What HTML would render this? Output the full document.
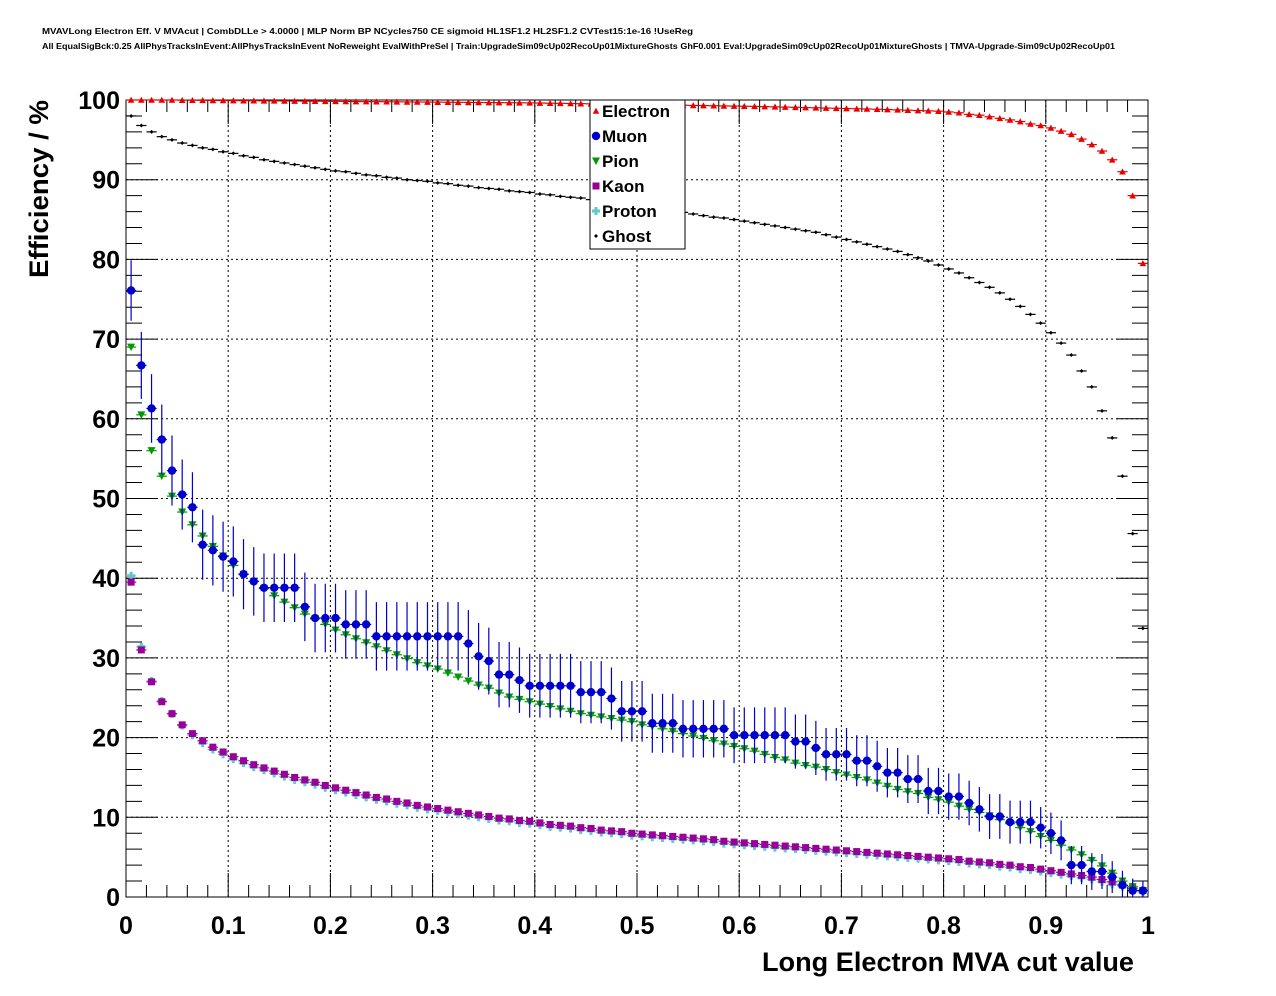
<!DOCTYPE html>
<html><head><meta charset="utf-8">
<style>
body{margin:0;background:#fff;}
svg{display:block;font-family:"Liberation Sans",Arial,sans-serif;}
</style></head>
<body>
<svg id="chart" width="1276" height="996" viewBox="0 0 1276 996" xmlns="http://www.w3.org/2000/svg">
<rect x="0" y="0" width="1276" height="996" fill="#fff"/>
<text x="42" y="34" font-size="8.5" font-weight="bold" textLength="651" lengthAdjust="spacingAndGlyphs">MVAVLong Electron Eff. V MVAcut | CombDLLe &gt; 4.0000 | MLP Norm BP NCycles750 CE sigmoid HL1SF1.2 HL2SF1.2 CVTest15:1e-16 !UseReg</text>
<text x="42" y="49" font-size="8.5" font-weight="bold" textLength="1073" lengthAdjust="spacingAndGlyphs">All EqualSigBck:0.25 AllPhysTracksInEvent:AllPhysTracksInEvent NoReweight EvalWithPreSel | Train:UpgradeSim09cUp02RecoUp01MixtureGhosts GhF0.001 Eval:UpgradeSim09cUp02RecoUp01MixtureGhosts | TMVA-Upgrade-Sim09cUp02RecoUp01</text>
<g id="grid"></g>
<g id="axes"></g>
<g id="series"></g>
<text x="1134" y="971" font-size="27" font-weight="bold" text-anchor="end" textLength="372" lengthAdjust="spacingAndGlyphs">Long Electron MVA cut value</text>
<text transform="translate(48,100) rotate(-90)" font-size="27" font-weight="bold" text-anchor="end" textLength="178" lengthAdjust="spacingAndGlyphs">Efficiency / %</text>
<g id="legend"></g>
</svg>
<script>
const xTicks=[0,0.1,0.2,0.3,0.4,0.5,0.6,0.7,0.8,0.9,1];
const xTickLabels=["0","0.1","0.2","0.3","0.4","0.5","0.6","0.7","0.8","0.9","1"];
const yTicks=[0,10,20,30,40,50,60,70,80,90,100];
const yTickLabels=["0","10","20","30","40","50","60","70","80","90","100"];
const seriesNames=["Electron","Muon","Pion","Kaon","Proton","Ghost"];
const electron=[100,100,100,100,100,99.98,99.97,99.96,99.95,99.94,99.93,99.92,99.91,99.9,99.89,99.88,99.87,99.86,99.85,99.84,99.83,99.82,99.81,99.8,99.79,99.78,99.77,99.76,99.75,99.74,99.73,99.72,99.71,99.7,99.69,99.68,99.67,99.66,99.65,99.64,99.62,99.6,99.58,99.56,99.54,99.52,99.5,99.48,99.46,99.44,99.42,99.4,99.38,99.36,99.34,99.32,99.3,99.28,99.26,99.24,99.22,99.2,99.17,99.14,99.11,99.08,99.05,99.02,98.99,98.96,98.93,98.9,98.87,98.84,98.8,98.76,98.72,98.68,98.64,98.6,98.5,98.4,98.2,98.1,97.9,97.7,97.5,97.3,97.0,96.8,96.5,96.1,95.7,95.1,94.4,93.6,92.5,91.0,88.0,79.5];
const muon=[76.1,66.7,61.3,57.4,53.5,50.5,48.9,44.2,43.5,42.7,42.1,40.5,39.6,38.8,38.8,38.8,38.8,36.4,35.0,35.0,35.0,34.2,34.2,34.2,32.7,32.7,32.7,32.7,32.7,32.7,32.7,32.7,32.7,31.8,30.2,29.6,27.9,27.9,27.2,26.5,26.5,26.5,26.5,26.5,25.7,25.7,25.7,24.9,23.3,23.3,23.3,21.8,21.8,21.8,21.1,21.1,21.1,21.1,21.1,20.3,20.3,20.3,20.3,20.3,20.3,19.5,19.5,18.7,17.9,17.9,17.9,17.1,17.1,16.4,15.6,15.6,14.8,14.8,13.3,13.3,12.6,12.6,11.8,11.0,10.1,10.1,9.4,9.4,9.4,8.7,8.0,7.1,4.0,4.0,3.2,3.2,2.5,1.5,0.8,0.8];
const muonErr=[3.8,4.2,4.3,4.4,4.4,4.4,4.4,4.4,4.4,4.4,4.4,4.4,4.3,4.3,4.3,4.3,4.3,4.3,4.3,4.3,4.3,4.3,4.3,4.3,4.3,4.3,4.3,4.3,4.3,4.3,4.3,4.3,4.3,4.2,4.2,4.2,4.1,4.1,4.1,4.0,4.0,4.0,4.0,4.0,3.9,3.9,3.9,3.9,3.8,3.8,3.8,3.7,3.7,3.7,3.6,3.6,3.6,3.6,3.6,3.5,3.5,3.5,3.5,3.5,3.5,3.4,3.4,3.4,3.3,3.3,3.3,3.2,3.2,3.2,3.1,3.1,3.0,3.0,2.9,2.9,2.9,2.9,2.8,2.8,2.8,2.8,2.7,2.7,2.7,2.6,2.6,2.5,2.4,2.4,2.3,2.2,2.0,1.8,1.5,1.2];
const pion=[69,60.5,56,52.8,50.3,48.3,46.7,45.3,44.0,42.8,41.6,40.5,39.6,38.7,37.8,37.0,36.3,35.5,34.9,34.2,33.5,32.9,32.4,31.9,31.4,30.9,30.4,29.9,29.4,29.0,28.6,28.1,27.6,27.1,26.6,26.2,25.6,25.1,24.8,24.5,24.2,23.9,23.6,23.3,23.0,22.8,22.6,22.4,22.2,22.0,21.6,21.4,21.1,20.8,20.5,20.2,19.9,19.6,19.2,18.9,18.6,18.3,17.9,17.5,17.2,16.8,16.5,16.3,16.0,15.6,15.3,15.0,14.7,14.3,13.9,13.5,13.2,13.0,12.5,12.2,11.9,11.4,11.0,10.6,10.2,9.7,9.2,8.7,8.2,7.6,7.1,6.5,5.9,5.3,4.6,3.9,3.0,2.0,1.3,0.8];
const kaon=[39.5,31,27,24.5,23,21.6,20.5,19.6,18.8,18.2,17.6,17.1,16.6,16.2,15.8,15.4,15.0,14.7,14.4,14.0,13.7,13.4,13.1,12.8,12.5,12.3,12.0,11.8,11.5,11.3,11.1,10.9,10.7,10.5,10.3,10.1,9.9,9.8,9.6,9.5,9.3,9.1,9.0,8.9,8.7,8.6,8.4,8.3,8.2,8.0,7.9,7.8,7.7,7.6,7.5,7.4,7.3,7.2,7.0,6.9,6.8,6.7,6.6,6.5,6.4,6.3,6.2,6.1,6.0,5.9,5.8,5.7,5.6,5.5,5.4,5.3,5.2,5.1,5.0,4.9,4.8,4.7,4.5,4.4,4.3,4.1,4.0,3.8,3.7,3.5,3.3,3.1,2.9,2.7,2.5,2.2,1.9,1.5,1.1,0.8];
const proton=[40.3,31.4,27.1,24.6,23.0,21.5,20.3,19.3,18.5,17.9,17.3,16.8,16.3,15.9,15.5,15.1,14.7,14.4,14.1,13.7,13.4,13.1,12.8,12.5,12.2,12.0,11.7,11.5,11.2,11.0,10.8,10.6,10.4,10.2,10.0,9.8,9.6,9.5,9.3,9.2,9.0,8.8,8.7,8.6,8.4,8.3,8.1,8.0,7.9,7.7,7.6,7.5,7.4,7.3,7.2,7.1,7.0,6.9,6.7,6.6,6.5,6.4,6.3,6.2,6.1,6.0,5.9,5.8,5.7,5.6,5.5,5.4,5.3,5.2,5.1,5.0,4.9,4.8,4.7,4.6,4.5,4.4,4.2,4.1,4.0,3.8,3.7,3.5,3.4,3.2,3.0,2.8,2.6,2.4,2.2,1.9,1.6,1.3,0.9,0.6];
const ghost=[98.0,96.8,96.0,95.4,95.0,94.6,94.3,94.0,93.8,93.5,93.3,93.0,92.8,92.5,92.3,92.1,91.9,91.7,91.5,91.3,91.1,91.0,90.8,90.6,90.5,90.3,90.2,90.0,89.9,89.8,89.6,89.5,89.3,89.2,89.0,88.9,88.8,88.6,88.5,88.4,88.2,88.1,87.9,87.8,87.7,87.5,87.4,87.2,87.0,86.9,86.7,86.5,86.3,86.1,85.9,85.7,85.5,85.3,85.2,85.0,84.8,84.6,84.4,84.2,84.0,83.8,83.6,83.4,83.1,82.8,82.5,82.2,81.9,81.6,81.3,81.0,80.6,80.2,79.8,79.3,78.8,78.3,77.7,77.1,76.5,75.8,75.0,74.1,73.1,72.0,70.8,69.5,68.0,66.0,64.0,61.0,57.6,52.8,45.6,33.7];
const NB=100;

const NS="http://www.w3.org/2000/svg";
const X0=126,X1=1148,Y0=897,Y1=100;
const xs=v=>X0+(X1-X0)*v;
const ys=v=>Y0-(Y0-Y1)*v/100;
function mk(tag,attrs,parent){const e=document.createElementNS(NS,tag);for(const k in attrs)e.setAttribute(k,attrs[k]);parent.appendChild(e);return e;}
const grid=document.getElementById('grid'),axes=document.getElementById('axes'),ser=document.getElementById('series'),leg=document.getElementById('legend');

xTicks.forEach((t,i)=>{
  if(i>0&&i<xTicks.length-1){const l=mk('line',{x1:xs(t),x2:xs(t),y1:Y1,y2:Y0,stroke:'#000','stroke-width':1,'stroke-dasharray':'2,3'},grid);
  
  }
  const tx=mk('text',{x:xs(t),y:934,'font-size':25,'font-weight':'bold','text-anchor':'middle'},axes);tx.textContent=xTickLabels[i];
  
  
});
yTicks.forEach((t,i)=>{
  if(i>0&&i<yTicks.length-1){const l=mk('line',{x1:X0,x2:X1,y1:ys(t),y2:ys(t),stroke:'#000','stroke-width':1,'stroke-dasharray':'2,3'},grid);
  
  }
  const tx=mk('text',{x:120,y:ys(t)+9,'font-size':25,'font-weight':'bold','text-anchor':'end'},axes);tx.textContent=yTickLabels[i];
  
  
});
let tk='';
for(let i=0;i<=50;i++){const v=i/50,x=xs(v),L=(i%5==0)?24:12;tk+=`M${x},${Y0}V${Y0-L}M${x},${Y1}V${Y1+L}`;}
for(let i=0;i<=50;i++){const v=i*2,y=ys(v),L=(i%5==0)?32:16;tk+=`M${X0},${y}H${X0+L}M${X1},${y}H${X1-L}`;}
const tp=mk('path',{d:tk,stroke:'#000','stroke-width':1,fill:'none'},axes);


const fr=mk('rect',{x:X0,y:Y1,width:X1-X0,height:Y0-Y1,fill:'none',stroke:'#000','stroke-width':1},axes);



function marker(kind,x,y,col,g){
  if(kind=='tri-up')return mk('path',{d:`M${x-3.3},${y+2.8}L${x+3.3},${y+2.8}L${x},${y-3.3}Z`,fill:col},g);
  if(kind=='tri-down')return mk('path',{d:`M${x-4},${y-3.5}L${x+4},${y-3.5}L${x},${y+4}Z`,fill:col},g);
  if(kind=='circle')return mk('circle',{cx:x,cy:y,r:4.2,fill:col},g);
  if(kind=='square')return mk('rect',{x:x-3.5,y:y-3.5,width:7,height:7,fill:col},g);
  if(kind=='cross')return mk('path',{d:`M${x-4},${y-1.5}h2.5v-2.5h3v2.5h2.5v3h-2.5v2.5h-3v-2.5h-2.5Z`,fill:col},g);
  if(kind=='diamond')return mk('path',{d:`M${x-2},${y}L${x},${y-2}L${x+2},${y}L${x},${y+2}Z`,fill:col},g);
}
const defs=[
 {name:'electron',label:'Electron',data:electron,col:'#e80000',kind:'tri-up'},
 {name:'ghost',label:'Ghost',data:ghost,col:'#000',kind:'diamond'},
 {name:'proton',label:'Proton',data:proton,col:'#5fc8c8',kind:'cross'},
 {name:'kaon',label:'Kaon',data:kaon,col:'#990099',kind:'square'},
 {name:'pion',label:'Pion',data:pion,col:'#009900',kind:'tri-down'},
 {name:'muon',label:'Muon',data:muon,col:'#0000cc',kind:'circle',err:muonErr},
];
defs.forEach(s=>{
  const g=mk('g',{},ser);
  
  
  s.data.forEach((v,i)=>{
    const xc=xs((i+0.5)/NB),y=ys(v);
    let d=`M${xs(i/NB)},${y}H${xs((i+1)/NB)}`;
    if(s.err)d+=`M${xc},${ys(v+s.err[i])}V${ys(Math.max(0,v-s.err[i]))}`;
    const ln=mk('path',{d:d,stroke:s.col,'stroke-width':1.2,fill:'none'},g);
    
    
    const m=marker(s.kind,xc,y,s.col,g);
    
    
  });
});
const lb=mk('rect',{x:590,y:100,width:95,height:149,fill:'#fff',stroke:'#000','stroke-width':1},leg);


const legOrder=['electron','muon','pion','kaon','proton','ghost'];
legOrder.forEach((n,i)=>{
  const s=defs.find(d=>d.name==n);const y=111+25*i;
  const m=marker(s.kind,596,y,s.col,leg);
  
  
  const t=mk('text',{x:602,y:y+6,'font-size':17,'font-weight':'bold'},leg);t.textContent=seriesNames[i];
  
  
});
</script>
</body></html>
